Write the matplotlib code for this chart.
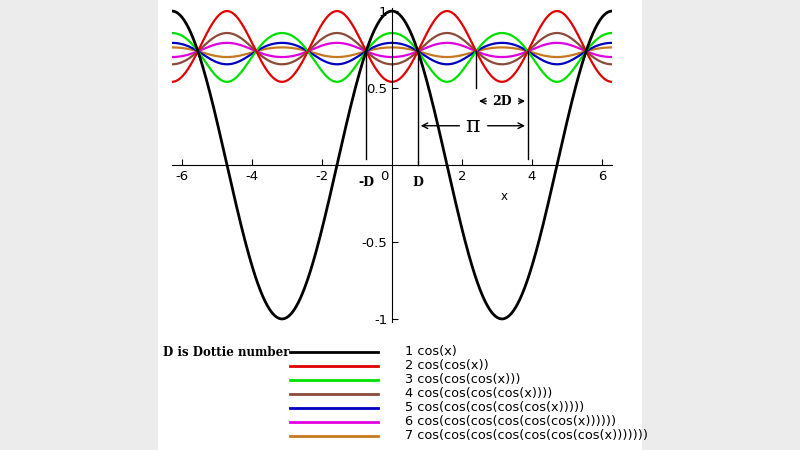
import numpy as np
import matplotlib.pyplot as plt
from matplotlib.patches import Rectangle

# curves: n-fold iterated cosine
depths = [1, 2, 3, 4, 5, 6, 7]
colors = ['#000000', '#e00000', '#00e000', '#8b4a3a', '#0000c0', '#e000e0', '#c87820']
labels = ['1 cos(x)', '2 cos(cos(x))', '3 cos(cos(cos(x)))', '4 cos(cos(cos(cos(x))))',
          '5 cos(cos(cos(cos(cos(x)))))', '6 cos(cos(cos(cos(cos(cos(x))))))',
          '7 cos(cos(cos(cos(cos(cos(cos(x)))))))']
xticks = [-6, -4, -2, 2, 4, 6]
yticks = [-1, -0.5, 0.5, 1]
dottie = 0.739085

fig = plt.figure(figsize=(8, 4.5), dpi=100, facecolor='#ececec')
fig.patches.append(Rectangle((158 / 800, 0), 484 / 800, 1, transform=fig.transFigure,
                             facecolor='white', edgecolor='none', zorder=-10))

ax = fig.add_axes([172 / 800, 1 - 322 / 450, 440 / 800, 314 / 450], zorder=5)
ax.set_facecolor('none')
x = np.linspace(-2 * np.pi, 2 * np.pi, 800)
for n, c in zip(depths[::-1], colors[::-1]):
    y = x.copy()
    for _ in range(n):
        y = np.cos(y)
    ax.plot(x, y, color=c, lw=2 if n == 1 else 1.6)

ax.set_xlim(-2 * np.pi, 2 * np.pi)
ax.set_ylim(-1.02, 1.02)
for s in ['top', 'right']:
    ax.spines[s].set_visible(False)
ax.spines['left'].set_position(('data', 0))
ax.spines['bottom'].set_position(('data', 0))
ax.set_xticks(xticks)
ax.set_xticklabels([str(t) for t in xticks])
ax.set_yticks(yticks)
ax.set_yticklabels(['-1', '-0.5', '0.5', '1'])
ax.tick_params(labelsize=9.5, length=4, direction='in')
ax.text(-0.1, -0.03, '0', ha='right', va='top', fontsize=9.5)
ax.text(3.1, -0.23, 'x', fontsize=8.5)

serif = dict(family='DejaVu Serif', fontweight='bold')
for xv, y0, y1 in [(-dottie, 0.04, dottie), (dottie, 0, dottie),
                   (np.pi - dottie, 0.5, dottie), (np.pi + dottie, 0.04, dottie)]:
    ax.plot([xv, xv], [y0, y1], color='black', lw=1)
ax.text(-dottie, -0.07, '-D', ha='center', va='top', fontsize=9, **serif)
ax.text(dottie, -0.07, 'D', ha='center', va='top', fontsize=9, **serif)
ax.annotate('', xy=(dottie, 0.255), xytext=(np.pi + dottie, 0.255),
            arrowprops=dict(arrowstyle='<->', lw=1))
ax.text(np.pi / 2 + dottie, 0.255, 'π', ha='center', va='center', fontsize=16,
        family='DejaVu Serif', backgroundcolor='white')
ax.annotate('', xy=(np.pi - dottie, 0.415), xytext=(np.pi + dottie, 0.415),
            arrowprops=dict(arrowstyle='<->', lw=1))
ax.text(np.pi, 0.415, '2D', ha='center', va='center', fontsize=9,
        backgroundcolor='white', **serif)

fig.text(163 / 800, 1 - 352 / 450, 'D is Dottie number', va='center', fontsize=8.5, **serif)
for i, (c, lab) in enumerate(zip(colors, labels)):
    yy = 1 - (352 + 14 * i) / 450
    fig.add_artist(plt.Line2D([290 / 800, 378 / 800], [yy, yy], color=c, lw=2))
    fig.text(405 / 800, yy, lab, va='center', fontsize=9.3)

fig.savefig('out.png', dpi=100, facecolor=fig.get_facecolor())
